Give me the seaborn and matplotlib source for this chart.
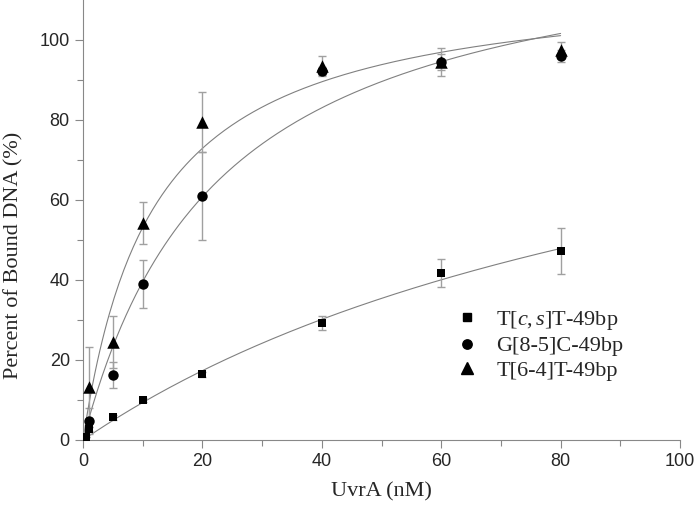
import seaborn as sns
import matplotlib.pyplot as plt
import matplotlib.lines as mlines
import numpy as np

# UvrA concentration (nM) and percent bound DNA
x_cs = [0.5, 1, 5, 10, 20, 40, 60, 80]
y_cs = [0.8, 2.7, 5.7, 10.0, 16.4, 29.2, 41.7, 47.2]
e_cs = [0.0, 0.5, 0.6, 0.6, 0.7, 1.8, 3.5, 5.7]

x_g8 = [1, 5, 10, 20, 40, 60, 80]
y_g8 = [4.8, 16.3, 39.0, 61.0, 92.2, 94.5, 96.0]
e_g8 = [3.2, 3.3, 6.0, 11.0, 1.0, 2.0, 1.5]

x_t64 = [1, 5, 10, 20, 40, 60, 80]
y_t64 = [13.3, 24.4, 54.2, 79.6, 93.5, 94.6, 97.5]
e_t64 = [10.0, 6.5, 5.2, 7.5, 2.5, 3.5, 2.0]

labels = ['T[$\\it{c,s}$]T-49bp', 'G[8-5]C-49bp', 'T[6-4]T-49bp']


def fit_binding(x, y):
    # one-site binding y = Bmax*x/(Kd+x), least squares over a Kd grid
    x = np.asarray(x, float)
    y = np.asarray(y, float)
    best = None
    for kd in np.linspace(0.5, 300, 6000):
        f = x / (kd + x)
        bmax = (f @ y) / (f @ f)
        sse = ((y - bmax * f) ** 2).sum()
        if best is None or sse < best[0]:
            best = (sse, bmax, kd)
    return best[1], best[2]


sns.set_style('ticks')
plt.rcParams['font.family'] = ['Liberation Sans', 'DejaVu Sans']
plt.rcParams['mathtext.fontset'] = 'custom'
plt.rcParams['mathtext.it'] = 'Liberation Serif:italic'
plt.rcParams['mathtext.rm'] = 'Liberation Serif'

fig = plt.figure(figsize=(6.95, 5.13), dpi=100)
ax = fig.add_axes([83 / 695, 1 - 440 / 513, 597 / 695, 440 / 513])

series = [(x_cs, y_cs, e_cs, 's', 6), (x_g8, y_g8, e_g8, 'o', 7.5), (x_t64, y_t64, e_t64, '^', 9)]
handles = []
for (x, y, e, m, ms), lab in zip(series, labels):
    bmax, kd = fit_binding(x, y)
    xs = np.linspace(0, 80, 200)
    sns.lineplot(x=xs, y=bmax * xs / (kd + xs), ax=ax, color='#808080', lw=0.8)
    ax.errorbar(x, y, yerr=e, fmt='none', ecolor='#a0a0a0', elinewidth=1, capsize=3, capthick=1, zorder=2)
    sns.scatterplot(x=x, y=y, ax=ax, marker=m, s=ms ** 2, color='black', edgecolor='black', linewidth=0, zorder=3)
    handles.append(mlines.Line2D([], [], color='black', marker=m, ls='none', markersize=ms * 0.9, label=lab))

ax.set_xlim(0, 100)
ax.set_ylim(0, 110)
ax.set_xticks(np.arange(0, 101, 20))
ax.set_xticks(np.arange(10, 100, 20), minor=True)
ax.set_yticks(np.arange(0, 101, 20))
ax.set_yticks(np.arange(10, 110, 20), minor=True)
ax.tick_params(which='major', length=6, width=0.8, color='#888888', labelsize=13, direction='out')
ax.tick_params(which='minor', length=4, width=0.8, color='#888888', direction='out')
sns.despine(ax=ax)
for s in ['left', 'bottom']:
    ax.spines[s].set_color('#888888')
    ax.spines[s].set_linewidth(0.8)

ax.set_xlabel('UvrA (nM)', fontsize=16, family=['Liberation Serif'])
ax.set_ylabel('Percent of Bound DNA (%)', fontsize=16, family=['Liberation Serif'])
ax.xaxis.set_label_coords(0.5, -0.095)
ax.yaxis.set_label_coords(-0.099, 0.42)

ax.legend(handles=handles, loc='center left', bbox_to_anchor=(434 / 695, 1 - 345 / 513),
          bbox_transform=fig.transFigure, frameon=False, handlelength=1.2, handletextpad=0.7,
          labelspacing=0.18, prop={'family': 'Liberation Serif', 'size': 16})

plt.savefig('out.png', dpi=100)
